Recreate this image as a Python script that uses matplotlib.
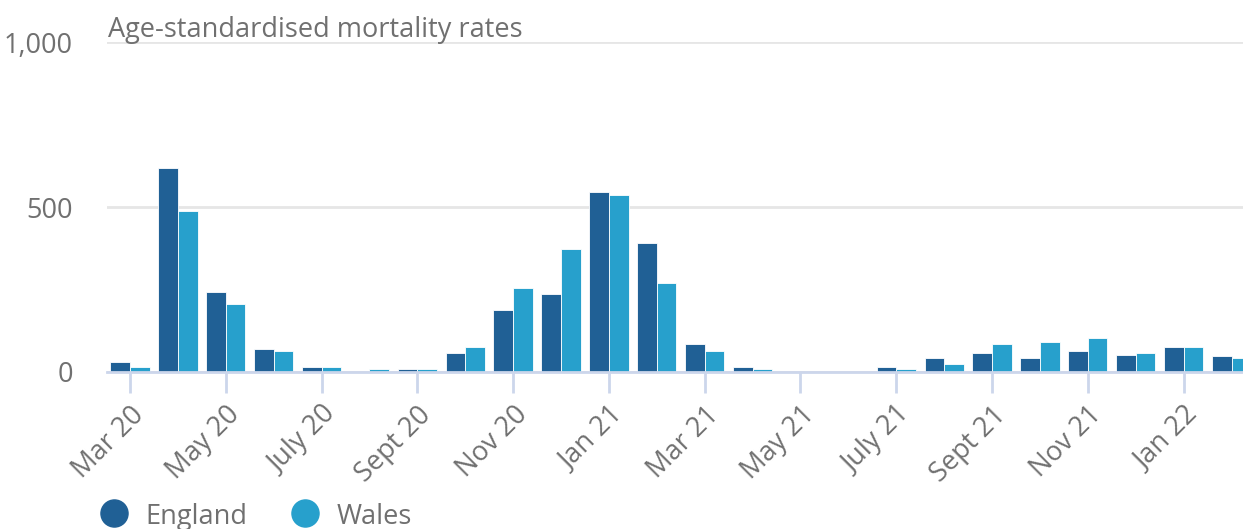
import numpy as np
import matplotlib
matplotlib.use("Agg")
import matplotlib.pyplot as plt
from matplotlib.lines import Line2D

plt.rcParams['font.family'] = ['Open Sans', 'DejaVu Sans']

months = ["Mar 20", "Apr 20", "May 20", "Jun 20", "July 20", "Aug 20", "Sept 20", "Oct 20",
          "Nov 20", "Dec 20", "Jan 21", "Feb 21", "Mar 21", "Apr 21", "May 21", "Jun 21",
          "July 21", "Aug 21", "Sept 21", "Oct 21", "Nov 21", "Dec 21", "Jan 22", "Feb 22"]
england = [30, 618, 242, 70, 15, 1, 9, 57, 187, 235, 544, 391, 84, 15, 0, 0,
           16, 43, 57, 43, 63, 51, 77, 50]
wales = [15, 488, 207, 64, 15, 9, 9, 77, 255, 372, 536, 269, 64, 9, 0, 0,
         9, 23, 84, 90, 104, 57, 77, 43]
tick_labels = months[::2]

C_ENG = "#206095"
C_WAL = "#27a0cc"
TXT = "#707070"
W, H = 1243, 529
FS = 19.5

fig = plt.figure(figsize=(W / 100, H / 100), dpi=100)
ax = fig.add_axes([107 / W, (H - 372) / H, 1 - 107 / W, (372 - 42) / H])

x = np.arange(len(months))
bw = 0.41
ax.bar(x - bw / 2, england, width=bw, color=C_ENG, edgecolor="white", linewidth=0.6, zorder=3)
ax.bar(x + bw / 2, wales, width=bw, color=C_WAL, edgecolor="white", linewidth=0.6, zorder=3)

ax.set_ylim(0, 1000)
ax.set_xlim(-0.48, 23.24)
ax.set_yticks([0, 500, 1000])
ax.set_yticklabels(["0", "500", "1,000"])
ax.set_xticks(x[::2])
ax.set_xticklabels(tick_labels, rotation=45, ha="right", rotation_mode="anchor")

ax.grid(axis="y", color="#e6e6e6", linewidth=2, zorder=0)
ax.set_axisbelow(True)
for s in ["top", "right", "left"]:
    ax.spines[s].set_visible(False)
ax.spines["bottom"].set_color("#ccd6eb")
ax.spines["bottom"].set_linewidth(2)
ax.spines["bottom"].set_zorder(4)

ax.tick_params(axis="y", length=0, pad=24.5, labelsize=FS, labelcolor=TXT)
ax.tick_params(axis="x", length=15, width=2, color="#ccd6eb", pad=6, labelsize=FS, labelcolor=TXT)
for lbl in ax.get_yticklabels():
    lbl.set_verticalalignment("center_baseline")

fig.text(108 / W, 1 - 37 / H, "Age-standardised mortality rates", fontsize=FS,
         color=TXT, ha="left", va="baseline")

# legend
for cx, tx, col, lab in [(114, 145, C_ENG, "England"), (305, 337, C_WAL, "Wales")]:
    fig.add_artist(Line2D([cx / W], [1 - 513 / H], marker="o", markersize=19.5,
                          color=col, linestyle="none", transform=fig.transFigure))
    fig.text(tx / W, 1 - 524 / H, lab, fontsize=FS, color=TXT, ha="left", va="baseline")

fig.savefig("out.png", dpi=100)
